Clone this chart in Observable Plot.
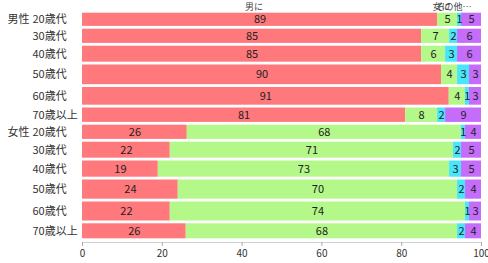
<!DOCTYPE html>
<html>
<head>
<meta charset="utf-8">
<script src="https://cdn.jsdelivr.net/npm/d3@7"></script>
<script src="https://cdn.jsdelivr.net/npm/@observablehq/plot@0.6"></script>
<style>
  html, body { margin: 0; padding: 0; background: #fff; }
  #chart svg { display: block; }
</style>
</head>
<body>
<div id="chart"></div>
<script>
// ---- data ----
const groups = ["男性", "", "", "", "", "", "女性", "", "", "", "", ""];
const ages = ["20歳代", "30歳代", "40歳代", "50歳代", "60歳代", "70歳以上",
              "20歳代", "30歳代", "40歳代", "50歳代", "60歳代", "70歳以上"];
// relative sample size of each row (sets the row thickness)
const sampleSize = [160, 170, 188, 225, 205, 172, 170, 188, 190, 220, 218, 178];
const categories = ["男に", "女に", "その他…", "無回答"];
const man    = [89, 85, 85, 90, 91, 81, 26, 22, 19, 24, 22, 26];
const woman  = [5, 7, 6, 4, 4, 8, 68, 71, 73, 70, 74, 68];
const either = [1, 2, 3, 3, 1, 2, 1, 2, 3, 2, 1, 2];
const other  = [5, 6, 6, 3, 3, 9, 4, 5, 5, 4, 3, 4];
const xTicks = [0, 20, 40, 60, 80, 100];

const colors = ["#ff787c", "#b4f88a", "#48e6fa", "#c66cfa"];
const series = [man, woman, either, other];

// ---- build tables ----
const total = d3.sum(sampleSize);
const rows = [];
let acc = 0;
sampleSize.forEach((n, i) => {
  rows.push({i, group: groups[i], age: ages[i], y1: acc, y2: acc + n, ym: acc + n / 2});
  acc += n;
});
const segs = [];
rows.forEach(r => {
  const vals = series.map(s => s[r.i]);
  const sum = d3.sum(vals);
  let c = 0;
  vals.forEach((v, k) => {
    const x1 = c / sum * 100, x2 = (c + v) / sum * 100;
    segs.push({row: r.i, cat: categories[k], value: v, x1, x2, xm: (x1 + x2) / 2, y1: r.y1, y2: r.y2, ym: r.ym});
    c += v;
  });
});
const headers = segs.filter(d => d.row === 0 && d.cat !== "無回答");

const font = "'Noto Sans CJK JP', 'Noto Sans', sans-serif";

const chart = Plot.plot({
  width: 488,
  height: 263,
  marginLeft: 82,
  marginRight: 7,
  marginTop: 0,
  marginBottom: 21,
  style: {fontFamily: font, background: "#fff"},
  x: {domain: [0, 100], axis: null},
  y: {domain: [0, total], range: [11.3, 239.7], axis: null},
  color: {domain: categories, range: colors},
  marks: [
    Plot.rect(segs, {x1: "x1", x2: "x2", y1: "y1", y2: "y2", fill: "cat", insetTop: 1.4, insetBottom: 1.4}),
    Plot.text(segs, {x: "xm", y: "ym", text: d => String(d.value), fontSize: 11, fill: "#222"}),
    Plot.text(rows, {y: "ym", frameAnchor: "left", text: "age", textAnchor: "start", dx: -50, fontSize: 11, fill: "#333"}),
    Plot.text(rows, {y: "ym", frameAnchor: "left", text: "group", textAnchor: "start", dx: -75, fontSize: 11, fill: "#333"}),
    Plot.text(headers, {x: "xm", y: () => 0, text: "cat", dx: -6, dy: -4.8, fontSize: 9, fill: "#444"}),
    Plot.frame({anchor: "bottom", stroke: "#d0d0d0"}),
    Plot.axisX({ticks: xTicks, tickSize: 4, tickPadding: 3, fontSize: 10, stroke: "#aaa", color: "#333", tickFormat: d => String(d)})
  ]
});
document.getElementById("chart").appendChild(chart);
</script>
</body>
</html>
